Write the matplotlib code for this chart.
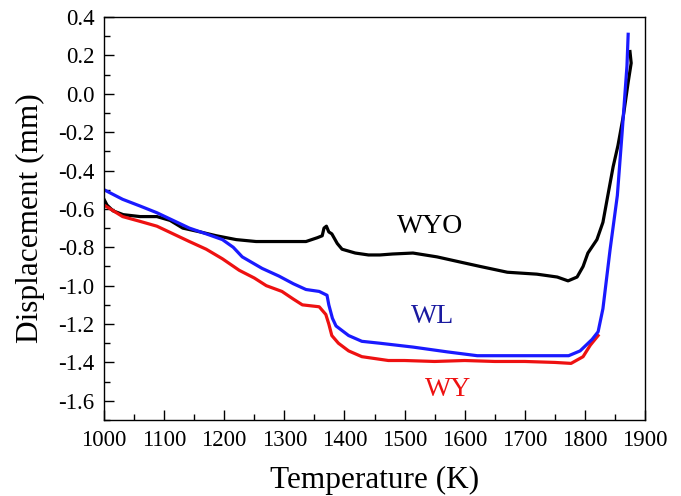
import matplotlib
matplotlib.use("Agg")
import matplotlib.pyplot as plt
from matplotlib.ticker import MultipleLocator

# ---- data ----
wyo_T = [1000, 1005, 1015, 1032, 1060, 1088, 1110, 1131, 1160, 1187, 1220, 1253, 1280,
         1310, 1336, 1355, 1363, 1366, 1370, 1374, 1379, 1388, 1396, 1418, 1440, 1459,
         1480, 1514, 1554, 1597, 1626, 1671, 1720, 1754, 1772, 1787, 1797, 1805, 1820,
         1830, 1837, 1847, 1855, 1864, 1872, 1877, 1875]
wyo_D = [-0.55, -0.58, -0.61, -0.63, -0.64, -0.64, -0.66, -0.70, -0.72, -0.74, -0.76, -0.77, -0.77,
         -0.77, -0.77, -0.75, -0.74, -0.70, -0.69, -0.72, -0.73, -0.78, -0.81, -0.83, -0.84, -0.84,
         -0.835, -0.83, -0.85, -0.88, -0.90, -0.93, -0.94, -0.955, -0.975, -0.955, -0.90, -0.83, -0.76,
         -0.67, -0.55, -0.38, -0.27, -0.115, 0.06, 0.16, 0.22]

wl_T = [1000, 1031, 1060, 1088, 1115, 1142, 1170, 1197, 1215, 1230, 1263, 1291, 1315, 1336,
        1358, 1371, 1374, 1380, 1386, 1407, 1429, 1459, 1514, 1571, 1621, 1700, 1773, 1792,
        1812, 1822, 1830, 1842, 1854, 1862, 1870, 1872]
wl_D = [-0.50, -0.55, -0.585, -0.62, -0.66, -0.70, -0.73, -0.76, -0.80, -0.85, -0.91, -0.95, -0.99, -1.02,
        -1.03, -1.05, -1.10, -1.17, -1.21, -1.26, -1.29, -1.30, -1.32, -1.345, -1.365, -1.365, -1.365, -1.34,
        -1.28, -1.24, -1.12, -0.81, -0.53, -0.20, 0.145, 0.31]

wy_T = [1000, 1031, 1060, 1088, 1115, 1142, 1170, 1197, 1225, 1250, 1270, 1296, 1315, 1330,
        1358, 1369, 1374, 1379, 1390, 1407, 1429, 1473, 1500, 1550, 1600, 1650, 1700, 1750,
        1777, 1797, 1809, 1822]
wy_D = [-0.58, -0.64, -0.665, -0.69, -0.73, -0.77, -0.81, -0.86, -0.92, -0.96, -1.00, -1.03, -1.07, -1.10,
        -1.11, -1.15, -1.20, -1.26, -1.30, -1.34, -1.37, -1.39, -1.39, -1.395, -1.39, -1.395, -1.395, -1.40,
        -1.405, -1.37, -1.31, -1.26]

x_ticks = [1000, 1100, 1200, 1300, 1400, 1500, 1600, 1700, 1800, 1900]
y_ticks = [-1.6, -1.4, -1.2, -1.0, -0.8, -0.6, -0.4, -0.2, 0.0, 0.2, 0.4]

plt.rcParams['font.family'] = ['Liberation Serif', 'DejaVu Serif']

fig = plt.figure(figsize=(6.81, 4.96), dpi=100)
ax = fig.add_axes([104/681, 76/496, (645-104)/681, (420-17)/496])

lw = 2.3
ax.plot(wyo_T, wyo_D, color='black', lw=lw)
ax.plot(wy_T, wy_D, color='#ee1111', lw=lw)
ax.plot(wl_T, wl_D, color='#1a1aff', lw=lw)

ax.text(1542, -0.69, 'WYO', color='black', fontsize=20, ha='center', va='center')
ax.text(1547, -1.16, 'WL', color='#1a1aa0', fontsize=20, ha='center', va='center')
ax.text(1572, -1.54, 'WY', color='#ee1111', fontsize=20, ha='center', va='center')

ax.set_xlim(1000, 1900)
ax.set_ylim(-1.7, 0.4)
ax.set_xticks(x_ticks)
ax.set_yticks(y_ticks)
ax.set_yticklabels([f"{v:.1f}" for v in y_ticks])
ax.xaxis.set_minor_locator(MultipleLocator(50))
ax.yaxis.set_minor_locator(MultipleLocator(0.1))
ax.tick_params(which='both', direction='in', top=False, right=False, labelsize=16.5, width=1)
ax.tick_params(which='major', length=7, pad=7)
ax.tick_params(which='minor', length=4)
for s in ax.spines.values():
    s.set_linewidth(1.0)

ax.set_xlabel('Temperature (K)', fontsize=22.5, labelpad=11)
ax.set_ylabel('Displacement (mm)', fontsize=22.5, labelpad=9)

fig.savefig('out.png', dpi=100)
